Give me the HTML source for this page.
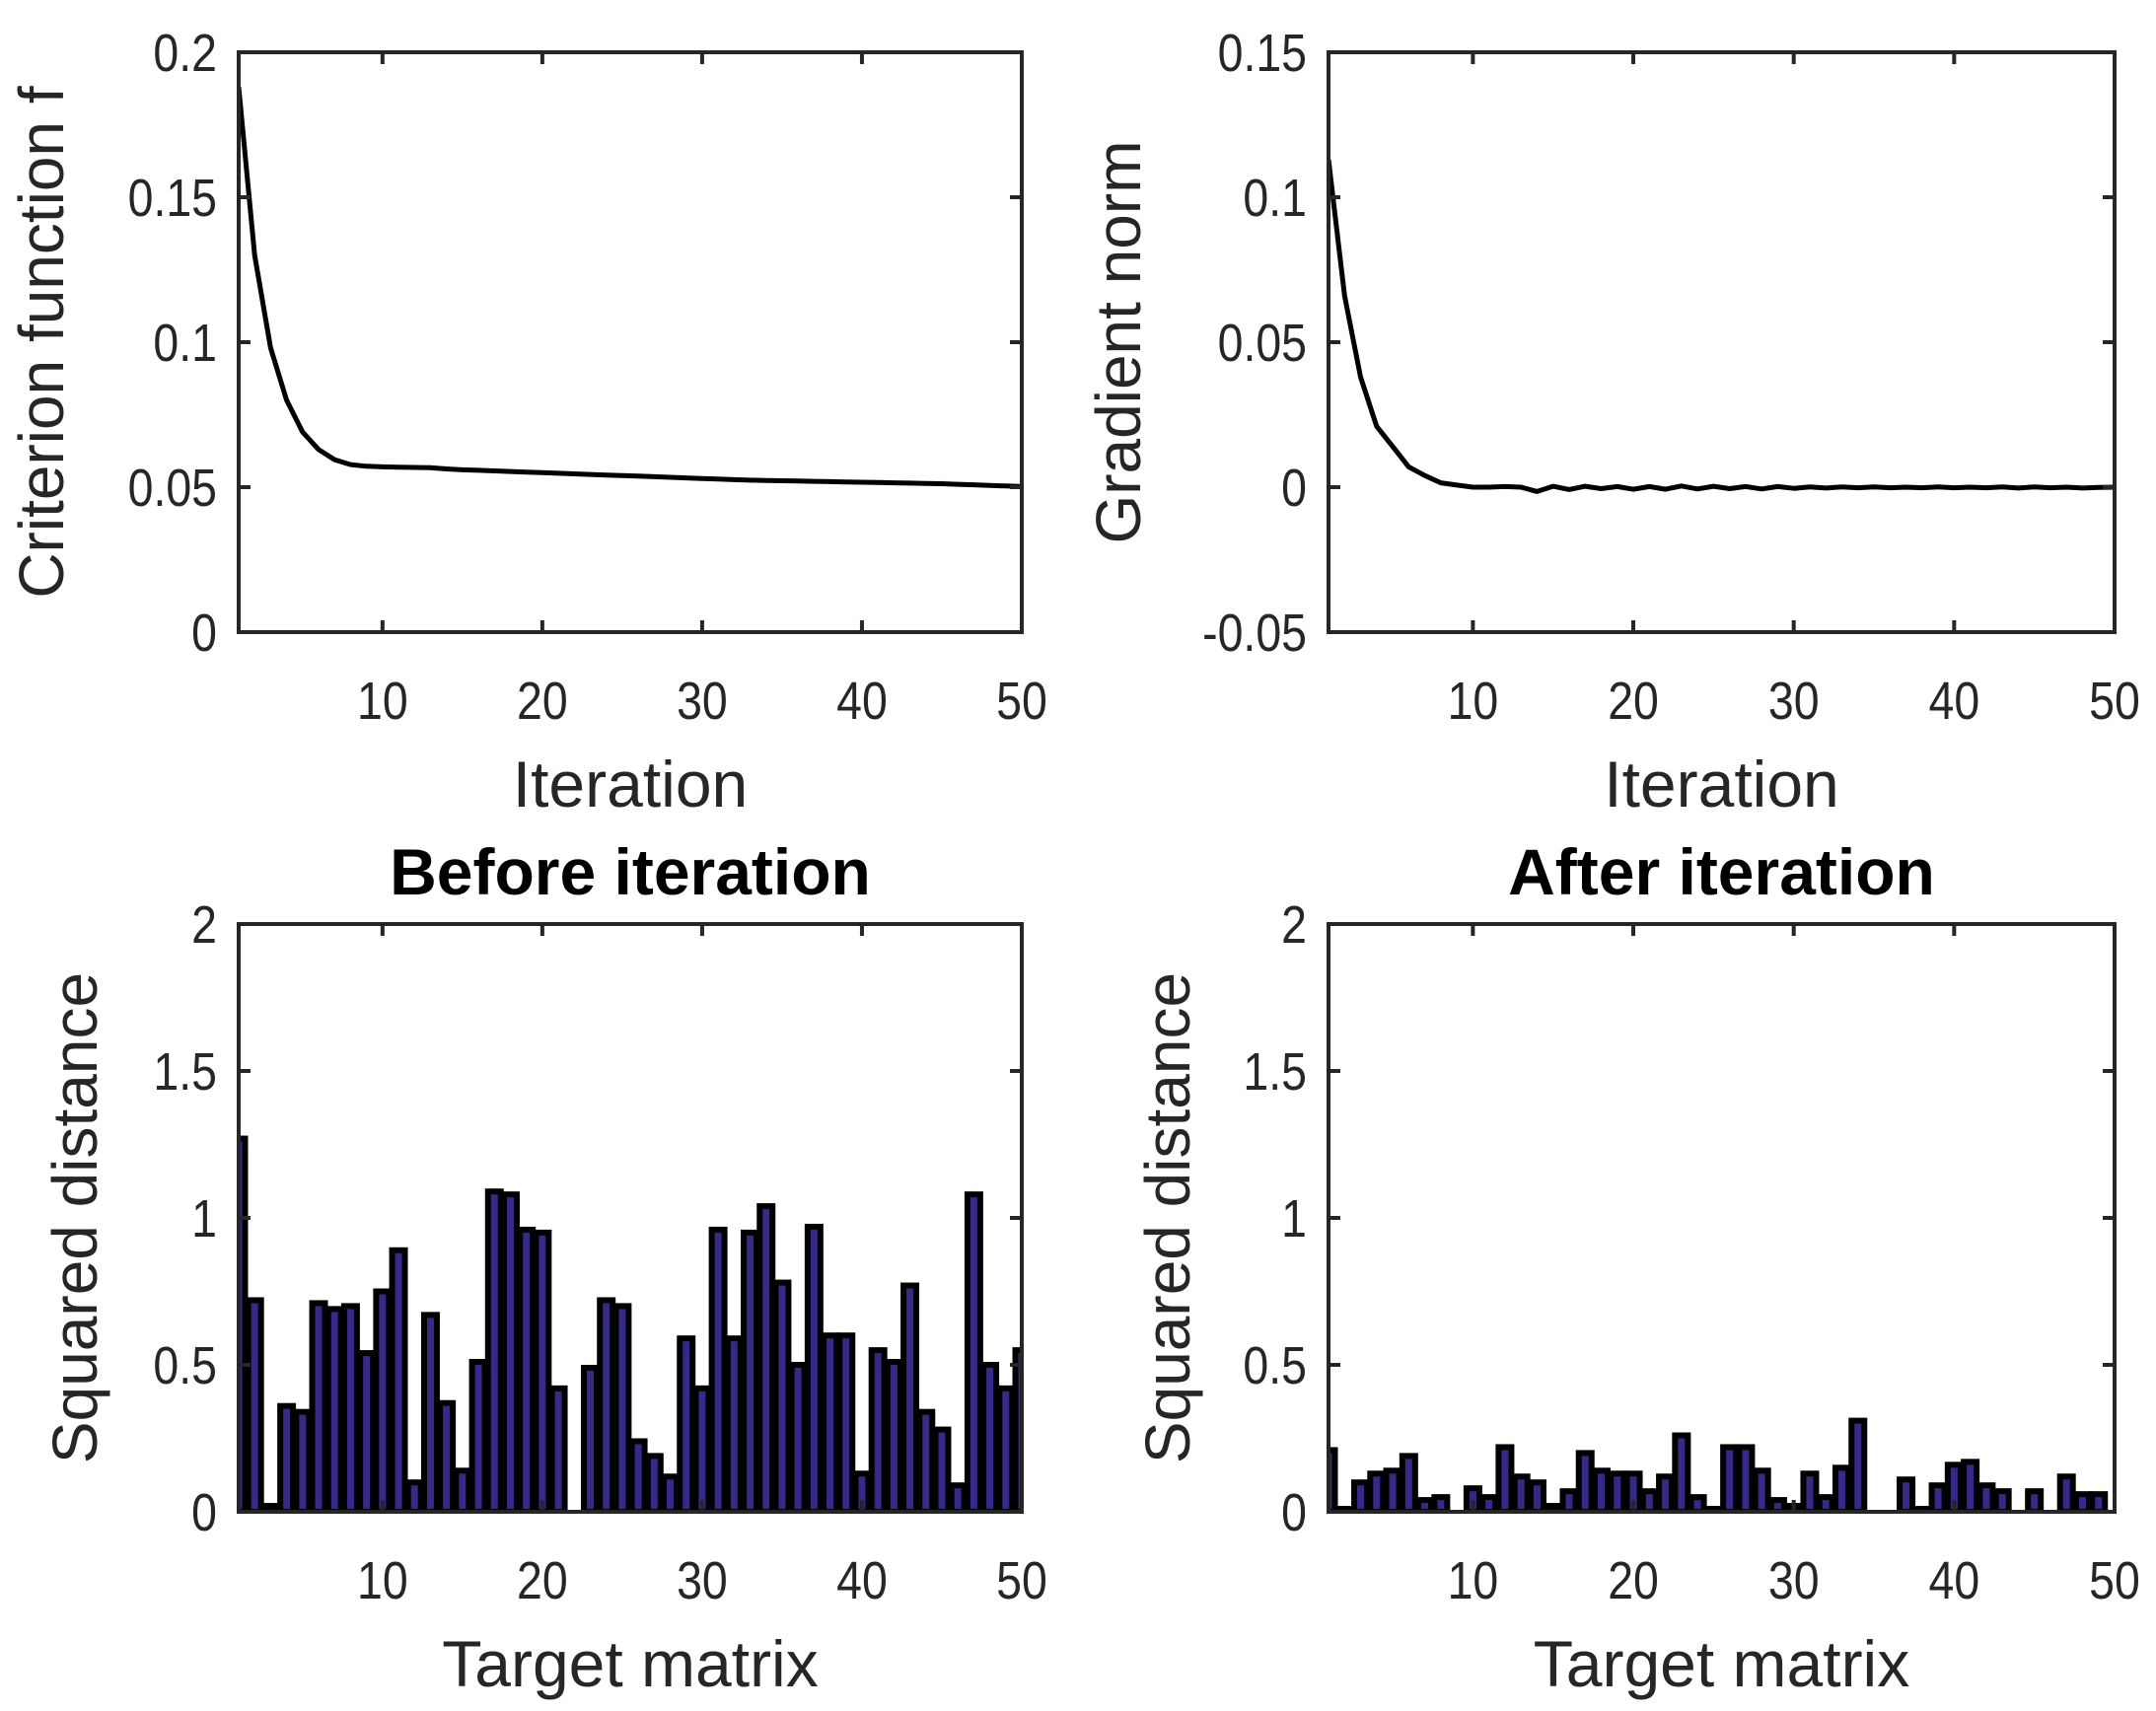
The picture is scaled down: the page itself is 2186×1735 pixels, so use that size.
<!DOCTYPE html>
<html><head><meta charset="utf-8"><style>
html,body{margin:0;padding:0;background:#fff;}
svg{display:block;font-family:"Liberation Sans",Arial,sans-serif;}
</style></head><body>
<svg id="fig" width="2186" height="1735" viewBox="0 0 2186 1735" xmlns="http://www.w3.org/2000/svg"></svg>
<script>
const iterations = Array.from({length:50},(_,i)=>i+1);
const criterionValues = [0.188,0.130,0.098,0.080,0.069,0.063,0.0595,0.0578,0.0572,0.0570,0.0569,0.0568,0.0567,0.0563,0.0560,0.0558,0.0556,0.0554,0.0552,0.0550,0.0548,0.0546,0.0544,0.0542,0.0540,0.0538,0.0536,0.0534,0.0532,0.0530,0.0528,0.0526,0.0524,0.0523,0.0522,0.0521,0.0520,0.0519,0.0518,0.0517,0.0516,0.0515,0.0514,0.0513,0.0512,0.0510,0.0508,0.0506,0.0504,0.0502];
const gradientValues = [0.113,0.066,0.038,0.021,0.014,0.007,0.004,0.0015,0.0007,0.0,0.0,0.0002,0.0,-0.0015,0.0003,-0.0008,0.0003,-0.0005,0.0002,-0.0007,0.0002,-0.0007,0.0004,-0.0006,0.0003,-0.0005,0.0002,-0.0006,0.0002,-0.0004,0.0001,-0.0003,0.0001,-0.0002,0.0001,-0.0002,0.0,-0.0002,0.0001,-0.0002,0.0,-0.0002,0.0001,-0.0003,0.0001,-0.0002,0.0,-0.0003,-0.0001,0.0];
const targets = Array.from({length:50},(_,i)=>i+1);
const beforeValues = [1.27,0.72,0.02,0.36,0.34,0.71,0.69,0.70,0.54,0.75,0.89,0.10,0.67,0.37,0.14,0.51,1.09,1.08,0.96,0.95,0.42,0,0.49,0.72,0.70,0.24,0.19,0.12,0.59,0.42,0.96,0.59,0.95,1.04,0.78,0.50,0.97,0.60,0.60,0.13,0.55,0.51,0.77,0.34,0.28,0.09,1.08,0.50,0.42,0.55];
const afterValues = [0.21,0.01,0.10,0.13,0.14,0.19,0.04,0.05,0,0.08,0.05,0.22,0.12,0.10,0.02,0.07,0.20,0.14,0.13,0.13,0.07,0.12,0.26,0.05,0.01,0.22,0.22,0.14,0.04,0.02,0.13,0.05,0.15,0.31,0,0,0.11,0.01,0.09,0.16,0.17,0.09,0.07,0,0.07,0,0.12,0.06,0.06,0];
const xTicks = [10,20,30,40,50];
const ticksF = [0,0.05,0.1,0.15,0.2];
const ticksG = [-0.05,0,0.05,0.1,0.15];
const ticksBar = [0,0.5,1,1.5,2];

const NS="http://www.w3.org/2000/svg";
const svg=document.getElementById('fig');
function mk(tag,attrs,parent){const e=document.createElementNS(NS,tag);for(const k in attrs)e.setAttribute(k,attrs[k]);(parent||svg).appendChild(e);return e;}

function axes(o){
  const g=mk('g',{});
  
  
  const X=v=>o.l+(v-1)/49*(o.r-o.l);
  const Y=v=>o.b-(v-o.ymin)/(o.ymax-o.ymin)*(o.b-o.t);
  const cid='clip-'+o.name;
  const cp=mk('clipPath',{id:cid},g);mk('rect',{x:o.l,y:o.t,width:o.r-o.l,height:o.b-o.t},cp);
  const plot=mk('g',{'clip-path':'url(#'+cid+')'},g);
  if(o.line){
    const pts=o.xs.map((x,i)=>X(x).toFixed(1)+','+Y(o.line[i]).toFixed(1)).join(' ');
    const pl=mk('polyline',{points:pts,fill:'none',stroke:'#000','stroke-width':5,'stroke-linejoin':'round'},plot);
    
    
  }
  if(o.bars){
    const w=0.8*(o.r-o.l)/49;
    o.bars.forEach((v,i)=>{
      const x=X(o.xs[i])-w/2, y=Y(v);
      const rc=mk('rect',{x:x,y:y,width:w,height:Math.max(0,o.b-y),fill:'#352a87',stroke:'#000','stroke-width':6},plot);
      
      
    });
  }
  const ax='#262626';
  mk('rect',{x:o.l,y:o.t,width:o.r-o.l,height:o.b-o.t,fill:'none',stroke:ax,'stroke-width':4},g);
  const tl=12;
  xTicks.forEach(v=>{
    const x=X(v);
    mk('line',{x1:x,y1:o.b,x2:x,y2:o.b-tl,stroke:ax,'stroke-width':4},g);
    mk('line',{x1:x,y1:o.t,x2:x,y2:o.t+tl,stroke:ax,'stroke-width':4},g);
    const t=mk('text',{transform:'translate('+x+','+(o.b+88)+') scale(0.86,1)','font-size':54,'text-anchor':'middle',fill:'#262626'},g);
    t.textContent=v;
    
    
  });
  o.yt.forEach(v=>{
    const y=Y(v);
    mk('line',{x1:o.l,y1:y,x2:o.l+tl,y2:y,stroke:ax,'stroke-width':4},g);
    mk('line',{x1:o.r,y1:y,x2:o.r-tl,y2:y,stroke:ax,'stroke-width':4},g);
    const t=mk('text',{transform:'translate('+(o.l-22)+','+(y+19)+') scale(0.86,1)','font-size':54,'text-anchor':'end',fill:'#262626'},g);
    t.textContent=String(v);
    
    
  });
  const xl=mk('text',{x:(o.l+o.r)/2,y:o.b+177,'font-size':66,'text-anchor':'middle',fill:'#262626'},g);
  xl.textContent=o.xlabel;
  
  
  const yx=o.ylx, yy=(o.t+o.b)/2;
  const yl=mk('text',{x:yx,y:yy,'font-size':64,'text-anchor':'middle',fill:'#262626',transform:'rotate(-90 '+yx+' '+yy+')'},g);
  yl.textContent=o.ylabel;
  
  
  if(o.title){
    const tt=mk('text',{x:(o.l+o.r)/2,y:o.t-30,'font-size':66,'font-weight':'bold','text-anchor':'middle',fill:'#000'},g);
    tt.textContent=o.title;
    
    
  }
}
axes({name:'criterion-plot',l:242,r:1036,t:53,b:641,ymin:0,ymax:0.2,yt:ticksF,xs:iterations,line:criterionValues,xlabel:'Iteration',ylabel:'Criterion function f',ylx:64});
axes({name:'gradient-plot',l:1347,r:2144,t:53,b:641,ymin:-0.05,ymax:0.15,yt:ticksG,xs:iterations,line:gradientValues,xlabel:'Iteration',ylabel:'Gradient norm',ylx:1156});
axes({name:'before-plot',l:242,r:1036,t:937,b:1533,ymin:0,ymax:2,yt:ticksBar,xs:targets,bars:beforeValues,xlabel:'Target matrix',ylabel:'Squared distance',ylx:98,title:'Before iteration'});
axes({name:'after-plot',l:1347,r:2144,t:937,b:1533,ymin:0,ymax:2,yt:ticksBar,xs:targets,bars:afterValues,xlabel:'Target matrix',ylabel:'Squared distance',ylx:1206,title:'After iteration'});
</script>
</body></html>
